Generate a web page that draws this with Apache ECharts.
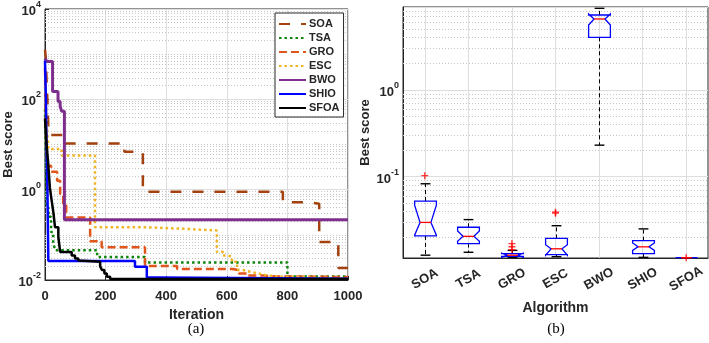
<!DOCTYPE html>
<html>
<head>
<meta charset="utf-8">
<title>Convergence and boxplot</title>
<script src="https://cdn.jsdelivr.net/npm/echarts@6/dist/echarts.min.js"></script>
<style>
  html, body { margin: 0; padding: 0; background: #fff; }
  #chart { width: 709px; height: 343px; }
</style>
</head>
<body>
<div id="chart"></div>
<script>
// algorithms, in legend / category order
const algoNames = ['SOA', 'TSA', 'GRO', 'ESC', 'BWO', 'SHIO', 'SFOA']
const lineColors = ['#A3410F', '#0A850A', '#E0561B', '#F0B323', '#7E2F8E', '#0000FF', '#000000']

// (a) convergence curves: [iteration, best score] where the score steps down
const soaCurve = [[0, 1260], [3, 800], [5, 280], [8, 91], [12, 16.3], [65, 10.5], [262, 6.9], [323, 0.9], [785, 0.526], [870, 0.49], [905, 0.0695], [968, 0.0184], [1000, 0.0184]]
const tsaCurve = [[0, 60], [2, 10], [4, 1.5], [5, 0.4], [12, 0.25], [20, 0.115], [27, 0.07], [33, 0.0456], [172, 0.0325], [330, 0.0245], [800, 0.0119], [1000, 0.0119]]
const groCurve = [[0, 500], [2, 60], [4, 20], [7, 3.37], [20, 2.5], [40, 1.58], [50, 0.8], [60, 0.49], [70, 0.243], [149, 0.072], [187, 0.053], [330, 0.0203], [436, 0.0175], [620, 0.0165], [640, 0.014], [667, 0.0125], [720, 0.012], [766, 0.01165], [1000, 0.01165]]
const escCurve = [[0, 200], [4, 60], [8, 15.4], [12, 7.95], [55, 5.73], [165, 0.148], [323, 0.135], [469, 0.125], [567, 0.042], [587, 0.035], [604, 0.0325], [617, 0.0252], [634, 0.0166], [653, 0.0153], [677, 0.014], [703, 0.0129], [726, 0.0118], [769, 0.0109], [1000, 0.0109]]
const bwoCurve = [[0, 809], [6, 684], [25, 150], [43, 90], [50, 70], [55, 54.4], [64, 0.216], [1000, 0.216]]
const shioCurve = [[0, 720], [3, 100], [5, 10], [8, 1], [11, 0.0265], [297, 0.0196], [336, 0.0113], [373, 0.0107], [1000, 0.0107]]
const sfoaCurve = [[0, 38], [5, 10], [10, 4.3], [16, 1.12], [22, 0.573], [28, 0.3], [33, 0.148], [44, 0.0895], [50, 0.0419], [88, 0.035], [99, 0.03], [110, 0.027], [116, 0.0252], [182, 0.02], [188, 0.0166], [196, 0.014], [204, 0.0118], [215, 0.0105], [1000, 0.0105]]
const curves = [soaCurve, tsaCurve, groCurve, escCurve, bwoCurve, shioCurve, sfoaCurve]

// (b) box statistics: [min, q1, median, q3, max, notch low, notch high]
const boxStats = [
  [0.0125, 0.0208, 0.0298, 0.0525, 0.083, 0.0212, 0.047],
  [0.0135, 0.017, 0.0206, 0.0262, 0.0321, 0.0181, 0.0238],
  [0.0118, 0.0121, 0.0125, 0.013, 0.0142, 0.0118, 0.0132],
  [0.012, 0.0127, 0.0148, 0.0195, 0.0273, 0.0125, 0.0165],
  [0.231, 4.03, 6.55, 7.28, 8.69, 5.59, 7.47],
  [0.0118, 0.013, 0.0156, 0.0184, 0.0251, 0.0142, 0.0173],
  [0.0117, 0.0117, 0.0117, 0.0117, 0.0117, 0.0117, 0.0117]
]
// (b) outliers: [algorithm, value]
const outliers = [['SOA', 0.103], ['GRO', 0.017], ['GRO', 0.0156], ['GRO', 0.0145], ['ESC', 0.0391], ['ESC', 0.0381], ['SFOA', 0.0117]]

const iterTicks = { min: 0, max: 1000, step: 200 }
const scoreRangeA = [0.01, 10000]
const scoreRangeB = [0.0116, 9]

const FONT = 'Liberation Sans'
const TXT = '#262626'

// decade label as 10 with superscript
const powLabel = (evenOnly) => (v) => {
  const lg = Math.log10(v)
  const e = Math.round(lg)
  if (Math.abs(lg - e) > 1e-6) return ''
  if (evenOnly && e % 2 !== 0) return ''
  return '{b|10}{e|' + e + '}'
}
const powRich = {
  b: { fontFamily: FONT, fontSize: 13, fontWeight: 'bold', color: TXT, lineHeight: 18, verticalAlign: 'bottom' },
  e: { fontFamily: FONT, fontSize: 9, fontWeight: 'bold', color: TXT, lineHeight: 11, verticalAlign: 'top' }
}

// dotted minor grid positions (2..9 x 10^k) inside a range
const minorLines = (range, withDecades) => {
  const out = []
  for (let k = -3; k <= 4; k++) {
    for (let m = 1; m <= 9; m++) {
      if (m === 1 && !withDecades(k)) continue
      const v = m * Math.pow(10, k)
      if (v > range[0] * 1.001 && v < range[1] * 0.999) out.push({ yAxis: v })
    }
  }
  return out
}

const minorStyle = { color: '#c4c4c4', type: [1, 2], width: 1 }
const majorStyle = { color: '#dedede', width: 1, type: 'solid' }

const lineStyles = [
  { width: 2.5, type: [11, 11] },
  { width: 2.5, type: [2.5, 3] },
  { width: 2.5, type: [8, 4] },
  { width: 2.5, type: [2.5, 3] },
  { width: 3, type: 'solid' },
  { width: 2.5, type: 'solid' },
  { width: 2.5, type: 'solid' }
]

const curveSeries = algoNames.map((name, i) => ({
  name: name,
  type: 'line',
  step: 'end',
  xAxisIndex: 0,
  yAxisIndex: 0,
  z: 3,
  symbol: 'none',
  color: lineColors[i],
  lineStyle: Object.assign({ color: lineColors[i], cap: 'butt' }, lineStyles[i]),
  data: curves[i]
}))

const renderBox = (params, api) => {
  const cat = api.value(0)
  const yOf = (dim) => api.coord([cat, api.value(dim)])[1]
  const x = Math.round(api.coord([cat, api.value(3)])[0]) + 0.5
  const hw = api.size([1, 0])[0] * 0.25
  const yMin = yOf(1), yQ1 = yOf(2), yMed = yOf(3), yQ3 = yOf(4), yMax = yOf(5), yNl = yOf(6), yNh = yOf(7)
  const cap = hw * 0.45
  const outline = [
    [x - hw, yQ1], [x - hw, yNl], [x - hw / 2, yMed], [x - hw, yNh], [x - hw, yQ3],
    [x + hw, yQ3], [x + hw, yNh], [x + hw / 2, yMed], [x + hw, yNl], [x + hw, yQ1]
  ]
  const black = { stroke: '#000', lineWidth: 1 }
  return {
    type: 'group',
    children: [
      { type: 'line', shape: { x1: x, y1: yQ3, x2: x, y2: yMax }, style: Object.assign({ lineDash: [4, 3] }, black) },
      { type: 'line', shape: { x1: x, y1: yQ1, x2: x, y2: yMin }, style: Object.assign({ lineDash: [4, 3] }, black) },
      { type: 'line', shape: { x1: x - cap, y1: yMax, x2: x + cap, y2: yMax }, style: { stroke: '#000', lineWidth: 1.4 } },
      { type: 'line', shape: { x1: x - cap, y1: yMin, x2: x + cap, y2: yMin }, style: { stroke: '#000', lineWidth: 1.4 } },
      { type: 'polygon', shape: { points: outline }, style: { fill: 'none', stroke: '#0000FF', lineWidth: 1.3 } },
      { type: 'line', shape: { x1: x - hw / 2, y1: yMed, x2: x + hw / 2, y2: yMed }, style: { stroke: '#FF0000', lineWidth: 1.3 } }
    ]
  }
}

const myChart = echarts.init(document.getElementById('chart'))
const option = {
  animation: false,
  backgroundColor: '#fff',
  textStyle: { fontFamily: FONT },
  legend: {
    data: algoNames,
    orient: 'vertical',
    left: 275,
    top: 13,
    z: 10,
    padding: [5, 4, 3, 3],
    itemWidth: 27,
    itemHeight: 12,
    itemGap: 2,
    itemStyle: { opacity: 0 },
    backgroundColor: '#fff',
    borderColor: TXT,
    borderWidth: 1,
    borderRadius: 0,
    textStyle: { fontFamily: FONT, fontSize: 11, fontWeight: 'bold', color: TXT, lineHeight: 12, padding: [0, 0, 0, -2] }
  },
  grid: [
    { left: 45, top: 7, width: 303, height: 273, show: true, borderColor: TXT, borderWidth: 1 },
    { left: 403, top: 7, width: 305, height: 251, show: true, borderColor: TXT, borderWidth: 1 }
  ],
  xAxis: [
    {
      gridIndex: 0,
      type: 'value',
      min: iterTicks.min,
      max: iterTicks.max,
      interval: iterTicks.step,
      name: 'Iteration',
      nameLocation: 'middle',
      nameGap: 27,
      nameTextStyle: { fontFamily: FONT, fontSize: 14, fontWeight: 'bold', color: TXT },
      axisLine: { lineStyle: { color: TXT } },
      axisTick: { inside: true, length: 4, lineStyle: { color: TXT } },
      axisLabel: { fontFamily: FONT, fontSize: 13, fontWeight: 'bold', color: TXT, margin: 10, formatter: (v) => String(v) },
      splitLine: { lineStyle: majorStyle }
    },
    {
      gridIndex: 1,
      type: 'category',
      data: algoNames,
      name: 'Algorithm',
      nameLocation: 'middle',
      nameGap: 43,
      nameTextStyle: { fontFamily: FONT, fontSize: 14, fontWeight: 'bold', color: TXT },
      axisLine: { lineStyle: { color: TXT } },
      axisTick: { inside: true, alignWithLabel: true, length: 4, lineStyle: { color: TXT } },
      axisLabel: { fontFamily: FONT, fontSize: 13, fontWeight: 'bold', color: TXT, rotate: 30, align: 'center', verticalAlign: 'middle', margin: 21 },
      splitLine: { show: false }
    }
  ],
  yAxis: [
    {
      gridIndex: 0,
      type: 'log',
      logBase: 10,
      min: scoreRangeA[0],
      max: scoreRangeA[1],
      interval: 2,
      name: 'Best score',
      nameLocation: 'middle',
      nameGap: 30,
      nameTextStyle: { fontFamily: FONT, fontSize: 13, fontWeight: 'bold', color: TXT },
      axisLine: { show: true, lineStyle: { color: TXT } },
      axisTick: { inside: true, length: 4, lineStyle: { color: TXT } },
      axisLabel: { formatter: powLabel(true), rich: powRich, margin: 4 },
      splitLine: { lineStyle: majorStyle }
    },
    {
      gridIndex: 1,
      type: 'log',
      logBase: 10,
      min: scoreRangeB[0],
      max: scoreRangeB[1],
      name: 'Best score',
      nameLocation: 'middle',
      nameGap: 31,
      nameTextStyle: { fontFamily: FONT, fontSize: 13, fontWeight: 'bold', color: TXT },
      axisLine: { show: true, lineStyle: { color: TXT } },
      axisTick: { inside: true, length: 4, lineStyle: { color: TXT } },
      axisLabel: { formatter: powLabel(false), rich: powRich, margin: 4, showMinLabel: false, showMaxLabel: false },
      splitLine: { lineStyle: majorStyle }
    }
  ],
  graphic: [
    { type: 'text', x: 196, y: 329, style: { text: '(a)', font: '15px "Liberation Serif"', fill: '#000', align: 'center', verticalAlign: 'middle' } },
    { type: 'text', x: 556, y: 329, style: { text: '(b)', font: '15px "Liberation Serif"', fill: '#000', align: 'center', verticalAlign: 'middle' } }
  ],
  series: [
    {
      name: 'minorA',
      type: 'line',
      xAxisIndex: 0,
      yAxisIndex: 0,
      z: 1,
      data: [],
      silent: true,
      markLine: {
        silent: true,
        z: 1,
        symbol: 'none',
        label: { show: false },
        lineStyle: minorStyle,
        data: minorLines(scoreRangeA, (k) => k % 2 !== 0)
      }
    },
    {
      name: 'minorB',
      type: 'line',
      xAxisIndex: 1,
      yAxisIndex: 1,
      z: 1,
      data: [],
      silent: true,
      markLine: {
        silent: true,
        z: 1,
        symbol: 'none',
        label: { show: false },
        lineStyle: minorStyle,
        data: minorLines(scoreRangeB, () => false).concat(algoNames.map((n) => ({ xAxis: n, lineStyle: majorStyle })))
      }
    },
    ...curveSeries,
    {
      name: 'box',
      type: 'custom',
      xAxisIndex: 1,
      yAxisIndex: 1,
      z: 4,
      renderItem: renderBox,
      encode: { x: 0, y: [1, 2, 3, 4, 5] },
      data: algoNames.map((n, i) => [i].concat(boxStats[i]))
    },
    {
      name: 'outliers',
      type: 'scatter',
      xAxisIndex: 1,
      yAxisIndex: 1,
      z: 5,
      symbol: 'path://M-1,-5H1V-1H5V1H1V5H-1V1H-5V-1H-1Z',
      symbolSize: 7,
      itemStyle: { color: '#FF0000' },
      data: outliers
    }
  ]
}
myChart.setOption(option)
</script>
</body>
</html>
